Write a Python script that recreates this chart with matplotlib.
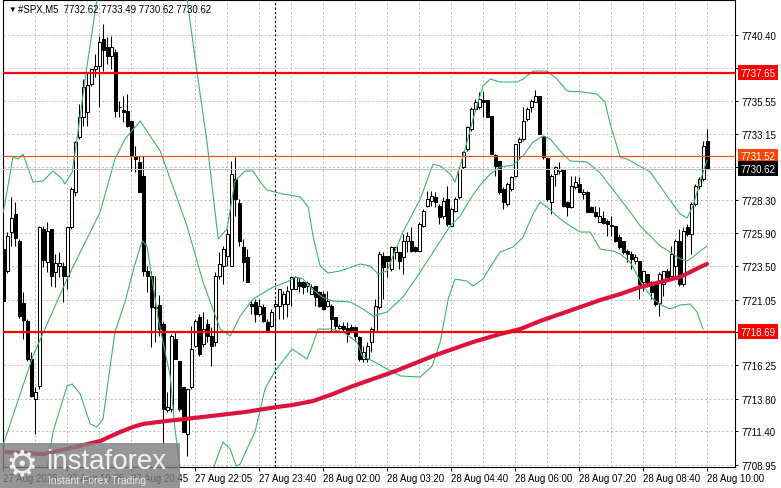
import numpy as np
import matplotlib
matplotlib.use("Agg")
import matplotlib.pyplot as plt
from matplotlib.patches import Rectangle

# ---- #SPX M5 candles (bar 0 .. 176) ----
opens = [7724.74, 7723.14, 7725.99, 7727.30, 7725.33, 7720.79, 7719.48, 7716.70, 7713.77, 7714.72,
         7726.21, 7723.79, 7726.21, 7723.06, 7723.50, 7723.50, 7722.77, 7726.35, 7728.91, 7732.94,
         7734.40, 7734.76, 7736.81, 7737.91, 7738.13, 7740.10, 7739.52, 7738.86, 7739.15, 7735.13,
         7734.91, 7734.84, 7734.11, 7731.55, 7731.11, 7730.08, 7723.14, 7722.77, 7720.50, 7720.65,
         7719.26, 7712.97, 7713.04, 7718.16, 7716.55, 7714.65, 7711.21, 7714.65, 7717.65, 7719.77,
         7717.80, 7719.26, 7718.38, 7717.94, 7722.77, 7723.50, 7724.23, 7723.50, 7729.86, 7728.11,
         7724.89, 7724.16, 7720.72, 7720.87, 7720.00, 7720.50, 7719.40, 7719.11, 7720.58, 7720.58,
         7720.72, 7720.72, 7721.82, 7721.82, 7722.33, 7722.33, 7722.04, 7721.45, 7722.04, 7721.60,
         7721.45, 7720.58, 7720.58, 7719.77, 7718.97, 7719.11, 7718.97, 7719.04, 7719.04, 7718.31,
         7716.70, 7716.70, 7717.94, 7718.75, 7720.50, 7724.23, 7724.23, 7723.28, 7724.53, 7724.53,
         7724.16, 7725.33, 7725.33, 7724.89, 7724.60, 7726.43, 7727.89, 7728.26, 7728.55, 7727.89,
         7727.16, 7728.40, 7726.43, 7727.52, 7728.55, 7730.74, 7732.06, 7733.52, 7734.98, 7735.13,
         7735.64, 7735.64, 7734.47, 7731.62, 7731.18, 7729.13, 7728.04, 7729.13, 7730.08, 7732.57,
         7732.79, 7734.25, 7735.13, 7735.50, 7735.94, 7733.01, 7731.40, 7728.18, 7730.23, 7730.45,
         7730.60, 7728.18, 7727.82, 7729.28, 7729.50, 7728.77, 7728.91, 7727.82, 7727.45, 7726.72,
         7727.01, 7726.79, 7726.43, 7726.43, 7725.62, 7725.33, 7724.60, 7724.38, 7723.87, 7723.87,
         7722.33, 7722.92, 7722.33, 7722.33, 7720.79, 7722.18, 7723.14, 7722.77, 7723.50, 7725.33,
         7722.18, 7726.35, 7725.84, 7728.04, 7729.35, 7729.86, 7732.62]
highs = [7725.11, 7725.99, 7728.55, 7728.18, 7725.48, 7721.60, 7719.63, 7717.21, 7714.65, 7726.43,
         7726.43, 7726.72, 7726.21, 7724.38, 7724.53, 7723.79, 7726.35, 7729.28, 7732.64, 7735.35,
         7737.18, 7737.69, 7737.91, 7739.01, 7740.32, 7741.20, 7740.25, 7740.32, 7739.37, 7735.57,
         7735.94, 7736.08, 7734.11, 7732.28, 7731.55, 7731.55, 7723.50, 7723.14, 7722.77, 7721.38,
         7719.40, 7714.29, 7718.53, 7718.67, 7716.55, 7714.65, 7714.51, 7719.11, 7719.63, 7719.99,
         7720.14, 7719.63, 7719.04, 7723.06, 7724.53, 7724.96, 7726.21, 7731.18, 7731.47, 7728.40,
         7725.48, 7724.74, 7721.03, 7721.09, 7721.09, 7720.72, 7719.63, 7720.36, 7721.09, 7721.82,
         7721.67, 7722.04, 7722.77, 7722.77, 7722.70, 7722.40, 7722.40, 7722.18, 7722.04, 7721.67,
         7721.67, 7721.67, 7720.72, 7719.77, 7719.26, 7719.40, 7719.40, 7719.26, 7719.11, 7718.38,
         7717.65, 7717.94, 7719.04, 7721.09, 7724.60, 7724.53, 7724.23, 7724.96, 7724.89, 7724.53,
         7725.84, 7725.99, 7726.35, 7724.96, 7726.72, 7727.67, 7728.99, 7728.99, 7728.91, 7728.04,
         7728.55, 7729.35, 7727.82, 7728.55, 7730.74, 7731.91, 7733.74, 7735.13, 7735.72, 7736.23,
         7736.30, 7735.64, 7734.47, 7731.69, 7731.18, 7729.28, 7729.65, 7730.08, 7732.42, 7732.94,
         7735.13, 7735.13, 7735.72, 7736.37, 7735.94, 7733.01, 7731.40, 7730.23, 7730.82, 7731.11,
         7730.60, 7728.26, 7730.08, 7730.08, 7730.01, 7729.13, 7728.99, 7727.89, 7727.89, 7727.82,
         7727.52, 7726.94, 7727.16, 7726.43, 7725.84, 7725.33, 7724.74, 7724.60, 7724.38, 7723.87,
         7723.14, 7722.92, 7722.40, 7722.33, 7723.06, 7723.14, 7723.28, 7724.96, 7725.48, 7726.21,
         7726.35, 7726.57, 7728.18, 7729.50, 7730.01, 7732.64, 7733.49]
lows = [7720.72, 7722.99, 7724.96, 7724.96, 7719.70, 7718.16, 7716.55, 7713.92, 7711.21, 7714.51,
        7723.43, 7723.06, 7722.04, 7721.96, 7722.70, 7720.87, 7721.82, 7726.21, 7728.62, 7732.79,
        7733.74, 7733.74, 7736.67, 7737.32, 7735.13, 7737.76, 7738.28, 7737.91, 7734.40, 7734.40,
        7734.03, 7733.67, 7730.45, 7730.38, 7728.91, 7722.77, 7721.60, 7717.58, 7717.94, 7718.38,
        7710.48, 7712.82, 7712.82, 7716.70, 7712.90, 7711.36, 7709.60, 7714.51, 7717.58, 7716.92,
        7717.58, 7717.94, 7716.19, 7717.65, 7722.55, 7722.18, 7723.50, 7723.50, 7727.16, 7724.96,
        7722.40, 7722.33, 7720.00, 7719.40, 7719.84, 7719.40, 7718.75, 7719.04, 7716.70, 7719.63,
        7719.63, 7719.77, 7720.58, 7721.82, 7721.60, 7721.45, 7721.60, 7721.45, 7720.58, 7720.50,
        7720.28, 7720.50, 7718.75, 7718.89, 7718.89, 7718.75, 7717.94, 7718.67, 7718.01, 7716.55,
        7716.50, 7716.50, 7717.21, 7718.67, 7720.36, 7721.09, 7722.70, 7723.14, 7724.01, 7723.28,
        7722.92, 7724.53, 7724.53, 7724.53, 7724.60, 7726.35, 7727.82, 7727.89, 7727.82, 7726.57,
        7726.94, 7726.43, 7726.43, 7727.45, 7728.40, 7730.60, 7731.91, 7733.37, 7734.84, 7734.98,
        7734.40, 7734.40, 7731.69, 7730.08, 7728.77, 7727.67, 7727.89, 7728.99, 7730.01, 7731.33,
        7732.64, 7734.11, 7734.76, 7735.50, 7733.16, 7731.33, 7728.26, 7727.30, 7729.35, 7730.23,
        7727.82, 7727.16, 7727.74, 7729.13, 7728.91, 7728.40, 7727.45, 7727.45, 7727.09, 7726.72,
        7726.57, 7725.70, 7725.70, 7725.26, 7724.74, 7724.38, 7723.79, 7723.28, 7723.65, 7721.09,
        7721.67, 7721.96, 7721.09, 7720.58, 7719.84, 7721.31, 7722.55, 7722.70, 7722.55, 7722.04,
        7722.04, 7725.70, 7724.38, 7727.89, 7729.13, 7729.72, 7730.62]
closes = [7720.94, 7725.70, 7727.01, 7725.55, 7719.84, 7719.55, 7716.70, 7713.99, 7714.29, 7726.35,
          7723.94, 7726.06, 7722.77, 7723.72, 7723.72, 7722.77, 7726.35, 7729.13, 7732.57, 7734.40,
          7736.59, 7736.74, 7737.91, 7738.13, 7739.88, 7739.30, 7738.86, 7739.52, 7734.84, 7735.10,
          7734.76, 7733.74, 7731.62, 7731.33, 7728.91, 7723.14, 7722.77, 7720.50, 7720.43, 7718.89,
          7713.04, 7713.19, 7718.38, 7716.70, 7713.04, 7711.36, 7714.51, 7717.43, 7719.48, 7717.07,
          7718.89, 7718.38, 7717.65, 7722.77, 7723.65, 7724.74, 7725.84, 7730.23, 7728.40, 7725.33,
          7723.79, 7722.33, 7720.58, 7720.00, 7720.58, 7719.48, 7718.75, 7720.14, 7720.72, 7721.82,
          7721.45, 7721.67, 7722.70, 7722.70, 7722.04, 7721.96, 7722.26, 7721.96, 7721.23, 7720.58,
          7720.36, 7720.94, 7719.63, 7719.11, 7719.11, 7718.89, 7718.53, 7718.75, 7718.38, 7716.70,
          7717.21, 7717.65, 7718.89, 7720.58, 7724.38, 7723.43, 7723.87, 7724.89, 7724.89, 7723.87,
          7725.33, 7725.70, 7724.60, 7724.60, 7726.57, 7727.52, 7728.40, 7728.62, 7728.18, 7727.09,
          7728.26, 7726.57, 7727.67, 7728.40, 7730.60, 7731.84, 7733.67, 7734.98, 7735.50, 7735.72,
          7735.50, 7734.40, 7731.69, 7730.82, 7728.91, 7728.18, 7729.50, 7730.01, 7732.42, 7732.79,
          7734.11, 7734.98, 7735.57, 7735.94, 7733.16, 7731.47, 7728.40, 7730.08, 7730.74, 7730.60,
          7727.89, 7727.82, 7729.35, 7729.65, 7728.91, 7728.91, 7727.45, 7727.45, 7727.16, 7727.16,
          7726.65, 7726.57, 7726.50, 7725.33, 7724.89, 7724.53, 7724.38, 7724.01, 7724.16, 7722.18,
          7723.14, 7722.04, 7721.60, 7720.72, 7722.92, 7723.14, 7722.70, 7724.38, 7725.33, 7722.18,
          7726.06, 7725.84, 7728.04, 7729.35, 7729.86, 7732.28, 7730.62]

# ---- Bollinger bands, read at sample bars (values beyond the frame are off-screen) ----
upper_idx = [0, 2.4, 3.7, 4.9, 7.4, 9.9, 12.4, 14.7, 15.4, 17.2, 18.4, 20.9, 23.4, 26.7, 34.2,
             40.4, 44.2, 45.9, 48.4, 50.9, 53.7, 55.9, 57.9, 60.4, 62.4, 64.2, 65.9, 69.9, 74.2,
             76.2, 77.4, 79.2, 81.2, 84.2, 89.2, 91.7, 93.7, 95.9, 97.4, 99.9, 104.2, 107.4,
             109.2, 111.7, 112.9, 114.7, 115.9, 117.4, 119.9, 121.7, 124.2, 128.4, 129.9, 132.4,
             135.9, 138.4, 140.9, 144.9, 148.4, 150.4, 151.7, 154.2, 155.9, 159.9, 161.7, 165.9,
             169.2, 170.9, 172.4, 174.2, 175.9]
upper_val = [7727.45, 7731.47, 7731.33, 7731.69, 7729.65, 7729.72, 7730.45, 7729.86, 7729.50,
             7730.38, 7732.79, 7738.13, 7743.03, 7745.96, 7748.15, 7746.69, 7744.13, 7743.03,
             7737.69, 7732.57, 7725.48, 7726.21, 7729.72, 7730.45, 7730.45, 7729.65, 7729.06,
             7728.77, 7728.55, 7727.82, 7725.70, 7723.50, 7722.99, 7723.14, 7723.65, 7723.50,
             7722.92, 7723.14, 7724.23, 7725.99, 7728.40, 7730.96, 7730.82, 7730.23, 7729.65,
             7731.33, 7732.57, 7734.25, 7736.67, 7737.18, 7736.96, 7736.96, 7737.18, 7737.76,
             7737.76, 7737.18, 7736.30, 7736.23, 7736.08, 7735.50, 7733.89, 7731.47, 7731.33,
             7730.67, 7730.38, 7728.62, 7727.30, 7727.01, 7727.89, 7729.72, 7731.25]

mid_idx = [0, 7.4, 15.9, 24.2, 27.9, 30.4, 34.2, 39.2, 45.9, 49.9, 54.2, 56.7, 59.2, 62.4, 67.4,
           70.9, 72.9, 74.9, 77.2, 79.7, 82.4, 86.7, 89.9, 92.4, 95.9, 99.9, 104.2, 108.4, 111.7,
           114.2, 116.7, 119.2, 121.7, 124.2, 127.4, 129.9, 132.4, 134.9, 136.7, 139.9, 141.7,
           145.9, 149.2, 151.7, 154.2, 156.7, 159.2, 161.7, 164.2, 166.7, 169.2, 170.9, 172.4,
           174.2, 175.9]
mid_val = [7710.48, 7716.92, 7722.55, 7727.45, 7731.33, 7732.79, 7734.11, 7731.91, 7726.43,
           7722.33, 7718.89, 7718.38, 7719.84, 7721.09, 7721.96, 7722.33, 7722.70, 7722.55,
           7721.82, 7721.23, 7720.94, 7720.87, 7720.36, 7719.84, 7720.14, 7721.23, 7723.06,
           7724.96, 7726.43, 7727.16, 7728.40, 7729.43, 7730.23, 7730.74, 7730.89, 7731.55,
           7732.57, 7733.01, 7732.79, 7731.69, 7731.18, 7731.11, 7730.30, 7729.35, 7728.40,
           7727.45, 7726.43, 7725.70, 7724.96, 7724.53, 7724.01, 7723.87, 7724.16, 7724.60,
           7724.96]

lower_idx = [0, 5.0, 10.9, 12.4, 15.9, 17.2, 19.2, 21.7, 23.4, 24.9, 26.7, 27.9, 30.4, 32.9,
             34.7, 35.9, 38.7, 41.7, 42.9, 44.2, 46.7, 50.4, 52.4, 54.9, 56.7, 58.2, 59.2, 60.9,
             62.9, 65.4, 67.9, 72.2, 75.9, 77.2, 78.7, 81.7, 84.9, 88.4, 89.7, 92.4, 95.9, 99.2,
             104.2, 107.2, 109.2, 111.2, 112.9, 115.9, 117.4, 119.9, 121.7, 124.2, 127.4, 129.9,
             132.4, 134.2, 135.9, 139.2, 141.7, 144.2, 146.7, 149.2, 152.4, 154.2, 156.7, 159.9,
             162.4, 164.9, 166.7, 169.2, 171.7, 173.4, 174.9]
lower_val = [7693.51, 7697.32, 7708.65, 7711.36, 7714.72, 7714.87, 7714.14, 7711.95, 7711.73,
             7712.31, 7716.19, 7718.67, 7720.87, 7723.65, 7725.33, 7724.96, 7719.63, 7715.46,
             7711.58, 7708.65, 7705.00, 7706.46, 7708.65, 7710.63, 7710.12, 7708.87, 7709.02,
             7710.12, 7711.36, 7714.51, 7715.82, 7717.43, 7716.70, 7717.65, 7718.89, 7718.89,
             7718.67, 7717.94, 7716.92, 7716.55, 7715.97, 7715.46, 7715.38, 7716.19, 7717.94,
             7721.09, 7722.55, 7722.40, 7722.04, 7722.55, 7723.43, 7724.53, 7724.89, 7725.62,
             7727.30, 7728.18, 7727.82, 7726.94, 7726.43, 7725.99, 7725.99, 7724.74, 7724.60,
             7724.38, 7723.79, 7722.04, 7721.09, 7720.58, 7720.36, 7720.65, 7720.72, 7720.14,
             7718.89]

# ---- long moving average (thick crimson) ----
ma_idx = [0, 9.9, 15.9, 24.2, 29.2, 32.4, 34.9, 40.9, 49.9, 60.4, 68.4, 72.4, 77.4, 82.4, 86.7,
          92.4, 97.4, 102.4, 107.4, 112.4, 117.4, 121.7, 124.2, 129.2, 134.2, 139.2, 144.2, 149.2,
          154.2, 159.2, 164.2, 169.2, 171.7, 174.2, 175.9]
ma_val = [7709.90, 7709.75, 7710.12, 7710.70, 7711.36, 7711.73, 7711.95, 7712.17, 7712.46,
          7712.82, 7713.19, 7713.34, 7713.63, 7714.14, 7714.65, 7715.24, 7715.75, 7716.33,
          7716.92, 7717.43, 7717.94, 7718.31, 7718.53, 7718.89, 7719.48, 7719.99, 7720.50,
          7721.01, 7721.45, 7721.96, 7722.33, 7722.70, 7723.06, 7723.43, 7723.65]

level_top = 7737.65
level_bottom = 7718.69
level_orange = 7731.52
bid_price = 7730.62

price_ticks = [7708.95, 7711.40, 7713.80, 7716.25, 7718.65, 7721.05, 7723.50, 7725.90,
               7728.30, 7730.75, 7733.15, 7735.55, 7738.00, 7740.40]
time_labels = ["27 Aug 2026", "27 Aug 19:25", "27 Aug 20:45", "27 Aug 22:05", "27 Aug 23:40",
               "28 Aug 02:00", "28 Aug 03:20", "28 Aug 04:40", "28 Aug 06:00", "28 Aug 07:20",
               "28 Aug 08:40", "28 Aug 10:00"]
day_break_bar = 68

FONT = ["Liberation Sans", "DejaVu Sans"]
plt.rcParams["font.family"] = FONT

W, H = 781, 489
fig = plt.figure(figsize=(W / 100, H / 100), dpi=100)
ax = fig.add_axes([3 / W, (H - 468) / H, (735 - 3) / W, 467 / H])
ax.set_xlim(-0.1, 182.9)
ax.set_ylim(7708.80, 7742.96)

# grid
grid_kw = dict(color="#c0c0c0", lw=0.7, dashes=(2.2, 2.2))
ax.set_xticks(range(0, 177, 16))
ax.set_xticks(range(8, 177, 16), minor=True)
ax.set_xticklabels(time_labels)
ax.grid(True, which="both", axis="x", **grid_kw)
ax.grid(True, which="major", axis="y", **grid_kw)
ax.set_axisbelow(True)

ax.yaxis.tick_right()
ax.set_yticks(price_ticks)
ax.set_yticklabels(["%.2f" % v for v in price_ticks])
ax.tick_params(axis="y", which="major", length=2.5, width=0.7, pad=2, labelsize=7)
ax.tick_params(axis="x", which="major", length=3, width=0.7, pad=1.5, labelsize=7)
ax.tick_params(axis="x", which="minor", length=0)
for t in ax.get_xticklabels():
    t.set_ha("left")
for s in ax.spines.values():
    s.set_linewidth(0.8)

# period separator
ax.axvline(day_break_bar, color="black", lw=0.8, dashes=(2, 2), zorder=1.5)

# candles
o = np.array(opens); h = np.array(highs); l = np.array(lows); c = np.array(closes)
idx = np.arange(len(o))
up = c >= o
ax.vlines(idx, l, h, color="black", lw=0.75, zorder=2)
ax.bar(idx[up], c[up] - o[up], bottom=o[up], width=0.72, color="white",
       edgecolor="black", lw=0.75, zorder=3)
ax.bar(idx[~up], o[~up] - c[~up], bottom=c[~up], width=0.72, color="black",
       edgecolor="black", lw=0.75, zorder=3)

# indicators
green = "#3cb371"
ax.plot(upper_idx, upper_val, color=green, lw=0.8, zorder=4)
ax.plot(mid_idx, mid_val, color=green, lw=0.8, zorder=4)
ax.plot(lower_idx, lower_val, color=green, lw=0.8, zorder=4)
ax.plot(ma_idx, ma_val, color="#dc143c", lw=3.0, solid_capstyle="round", zorder=5)

# horizontal levels
ax.axhline(bid_price, color="#c0c0c0", lw=0.8, zorder=5)
ax.axhline(level_orange, color="#ff4500", lw=0.8, zorder=6)
ax.axhline(level_top, color="#ff0000", lw=1.6, zorder=6)
ax.axhline(level_bottom, color="#ff0000", lw=1.6, zorder=6)

def price_tag(y, bg):
    ax.annotate("%.2f" % y, xy=(1.0, y), xycoords=("axes fraction", "data"),
                xytext=(4.2, 0), textcoords="offset points", ha="left", va="center",
                fontsize=7, color="white", annotation_clip=False, zorder=20,
                bbox=dict(boxstyle="square,pad=0.25", fc=bg, ec="none"))

price_tag(level_top, "#ff0000")
price_tag(level_orange, "#ff4500")
price_tag(bid_price, "black")
price_tag(level_bottom, "#ff0000")

# symbol header
fig.text(8 / W, 1 - 10 / H, "\u25bc", fontsize=5.5, va="center", ha="left")
fig.text(18 / W, 1 - 10 / H, "#SPX,M5  7732.62 7733.49 7730.62 7730.62",
         fontsize=6.9, va="center", ha="left")

# watermark
fig.patches.append(Rectangle((0, 0), 180 / W, 45 / H, transform=fig.transFigure,
                             facecolor="#7f7f7f", edgecolor="none", alpha=0.82, zorder=30))
fig.text(22 / W, 1 - 465 / H, "\u2699", fontsize=26, color="#f0f0f0", ha="center",
         va="center", family=["DejaVu Sans"], zorder=31)
fig.text(46 / W, 1 - 462 / H, "instaforex", fontsize=20, color="#f2f2f2", ha="left",
         va="center", zorder=31)
fig.text(48 / W, 1 - 481 / H, "Instant Forex Trading", fontsize=7.5, color="#e6e6e6",
         ha="left", va="center", zorder=31)

fig.savefig("out.png", dpi=100)
